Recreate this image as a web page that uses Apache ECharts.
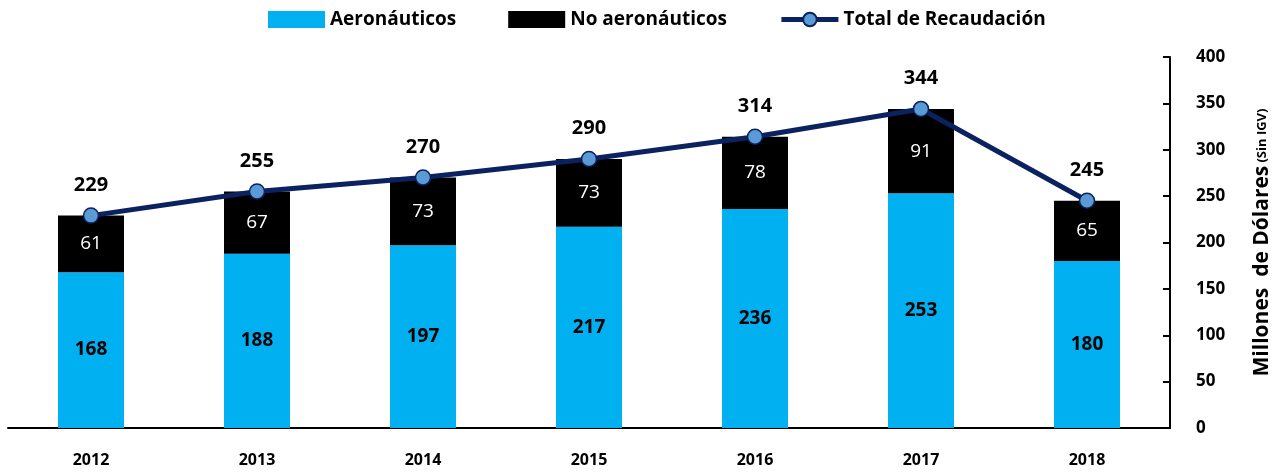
<!DOCTYPE html>
<html>
<head>
<meta charset="utf-8">
<script src="https://cdn.jsdelivr.net/npm/echarts@6/dist/echarts.min.js"></script>
<style>
  html, body { margin: 0; padding: 0; background: #fff; }
  #chart { width: 1281px; height: 475px; }
</style>
</head>
<body>
<div id="chart"></div>
<script>
const years = ["2012", "2013", "2014", "2015", "2016", "2017", "2018"];
const aeronauticos = [168, 188, 197, 217, 236, 253, 180];
const noAeronauticos = [61, 67, 73, 73, 78, 91, 65];
const total = [229, 255, 270, 290, 314, 344, 245];

const font = "Open Sans";
const chart = echarts.init(document.getElementById("chart"));

chart.setOption({
  animation: false,
  textStyle: { fontFamily: font },
  legend: {
    top: 5,
    left: 263,
    itemWidth: 57,
    itemHeight: 17,
    itemGap: 52,
    textStyle: { fontSize: 19, fontWeight: "bold", color: "#000", fontFamily: font },
    data: [
      { name: "Aeronáuticos", icon: "rect" },
      { name: "No aeronáuticos", icon: "rect" },
      { name: "Total de Recaudación", lineStyle: { width: 5 } }
    ]
  },
  grid: { left: 8, right: 109, top: 57, bottom: 47, containLabel: false },
  xAxis: {
    type: "category",
    data: years,
    axisLine: { lineStyle: { color: "#000", width: 2 } },
    axisTick: { show: false },
    axisLabel: { margin: 24, fontSize: 16, fontWeight: "bold", color: "#000" }
  },
  yAxis: {
    type: "value",
    position: "right",
    min: 0,
    max: 400,
    interval: 50,
    splitLine: { show: false },
    axisLine: { show: true, lineStyle: { color: "#000", width: 2 } },
    axisTick: { show: true, inside: true, length: 7, lineStyle: { color: "#000", width: 2 } },
    axisLabel: { margin: 26, fontSize: 17, fontWeight: "bold", color: "#000" },
    name: "{a|Millones  de Dólares} {b|(Sin IGV)}",
    nameLocation: "middle",
    nameRotate: 90,
    nameGap: 82,
    nameTextStyle: {
      rich: {
        a: { fontSize: 21, fontWeight: "bold", color: "#000", fontFamily: font },
        b: { fontSize: 13, fontWeight: "bold", color: "#000", fontFamily: font }
      }
    }
  },
  series: [
    {
      name: "Aeronáuticos",
      type: "bar",
      stack: "total",
      barWidth: 66,
      data: aeronauticos,
      itemStyle: { color: "#00b0f0" },
      label: { show: true, position: "inside", fontSize: 19, fontWeight: "bold", color: "#000" }
    },
    {
      name: "No aeronáuticos",
      type: "bar",
      stack: "total",
      barWidth: 66,
      data: noAeronauticos,
      itemStyle: { color: "#000" },
      label: { show: true, position: "inside", fontSize: 19, color: "#fff" }
    },
    {
      name: "Total de Recaudación",
      type: "line",
      data: total,
      symbol: "circle",
      symbolSize: 15,
      lineStyle: { color: "#0b2160", width: 5 },
      itemStyle: { color: "#5b9bd5", borderColor: "#0b2160", borderWidth: 1.5 },
      label: { show: true, position: "top", distance: 12, fontSize: 20, fontWeight: "bold", color: "#000" },
      z: 5
    }
  ]
});
</script>
</body>
</html>
